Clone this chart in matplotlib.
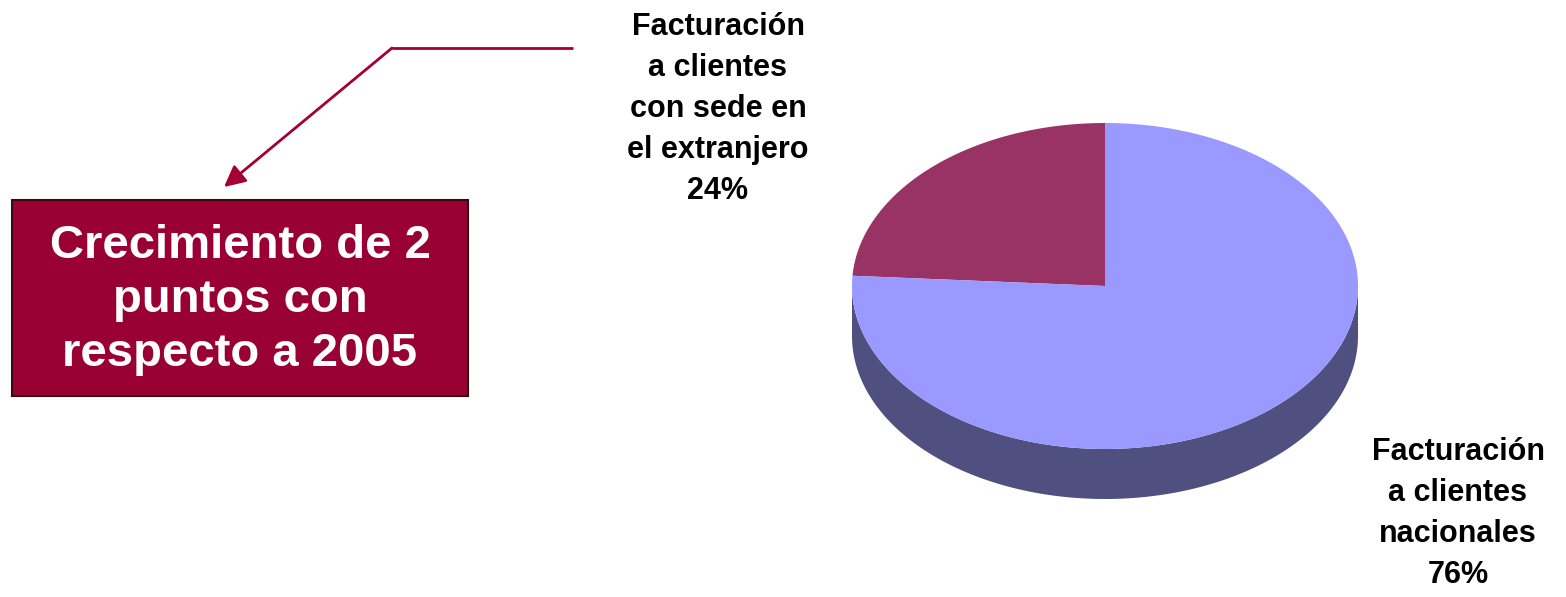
import numpy as np
import matplotlib
matplotlib.use("Agg")
import matplotlib.pyplot as plt
from matplotlib.patches import Polygon, Rectangle

plt.rcParams["font.family"] = ["Liberation Sans", "DejaVu Sans"]

# data
labels = ["Facturación\na clientes\ncon sede en\nel extranjero", "Facturación\na clientes\nnacionales"]
shares = [24, 76]
top_colors = ["#993366", "#9999FF"]
side_color = "#4F4F80"
callout = "Crecimiento de 2\npuntos con\nrespecto a 2005"

W, H = 1566, 597
fig = plt.figure(figsize=(W / 100, H / 100), dpi=100)
ax = fig.add_axes([0, 0, 1, 1])
ax.set_xlim(0, W)
ax.set_ylim(H, 0)
ax.axis("off")

# pseudo-3D pie geometry (pixel space)
cx, cy, rx, ry, depth = 1105, 286, 253, 163, 50


def pt(t):
    return cx + rx * np.cos(t), cy - ry * np.sin(t)


# side band on the visible front half
t = np.linspace(np.pi, 2 * np.pi, 200)
xs, ys = pt(t)
band = np.vstack([np.column_stack([xs, ys]),
                  np.column_stack([xs[::-1], ys[::-1] + depth])])
ax.add_patch(Polygon(band, closed=True, fc=side_color, ec="none"))

# top faces: first slice starts at 12 o'clock, counterclockwise
start = 90.0
for share, col in zip(shares, top_colors):
    span = share / sum(shares) * 360
    tt = np.radians(np.linspace(start, start + span, 300))
    px, py = pt(tt)
    poly = np.vstack([[cx, cy], np.column_stack([px, py])])
    ax.add_patch(Polygon(poly, closed=True, fc=col, ec="none"))
    start += span

lab_kw = dict(ha="center", va="top", fontsize=22, fontweight="bold",
              linespacing=1.48, color="black")
ax.text(718, 12, f"{labels[0]}\n{shares[0]}%", **lab_kw)
ax.text(1458, 437, f"{labels[1]}\n{shares[1]}%", **lab_kw)

# callout box
ax.add_patch(Rectangle((12, 200), 456, 196, fc="#990033", ec="#3a0a14", lw=1.5))
ax.text(240, 300, callout, ha="center", va="center", color="white",
        fontsize=34, fontweight="bold", linespacing=1.3)

# leader arrow
ax.plot([573, 392], [48, 48], color="#A50034", lw=2, solid_capstyle="butt")
ax.annotate("", xy=(224, 187), xytext=(392, 48),
            arrowprops=dict(arrowstyle="-|>", color="#A50034", lw=2,
                            mutation_scale=32, shrinkA=0, shrinkB=0))

fig.savefig("out.png", dpi=100)
